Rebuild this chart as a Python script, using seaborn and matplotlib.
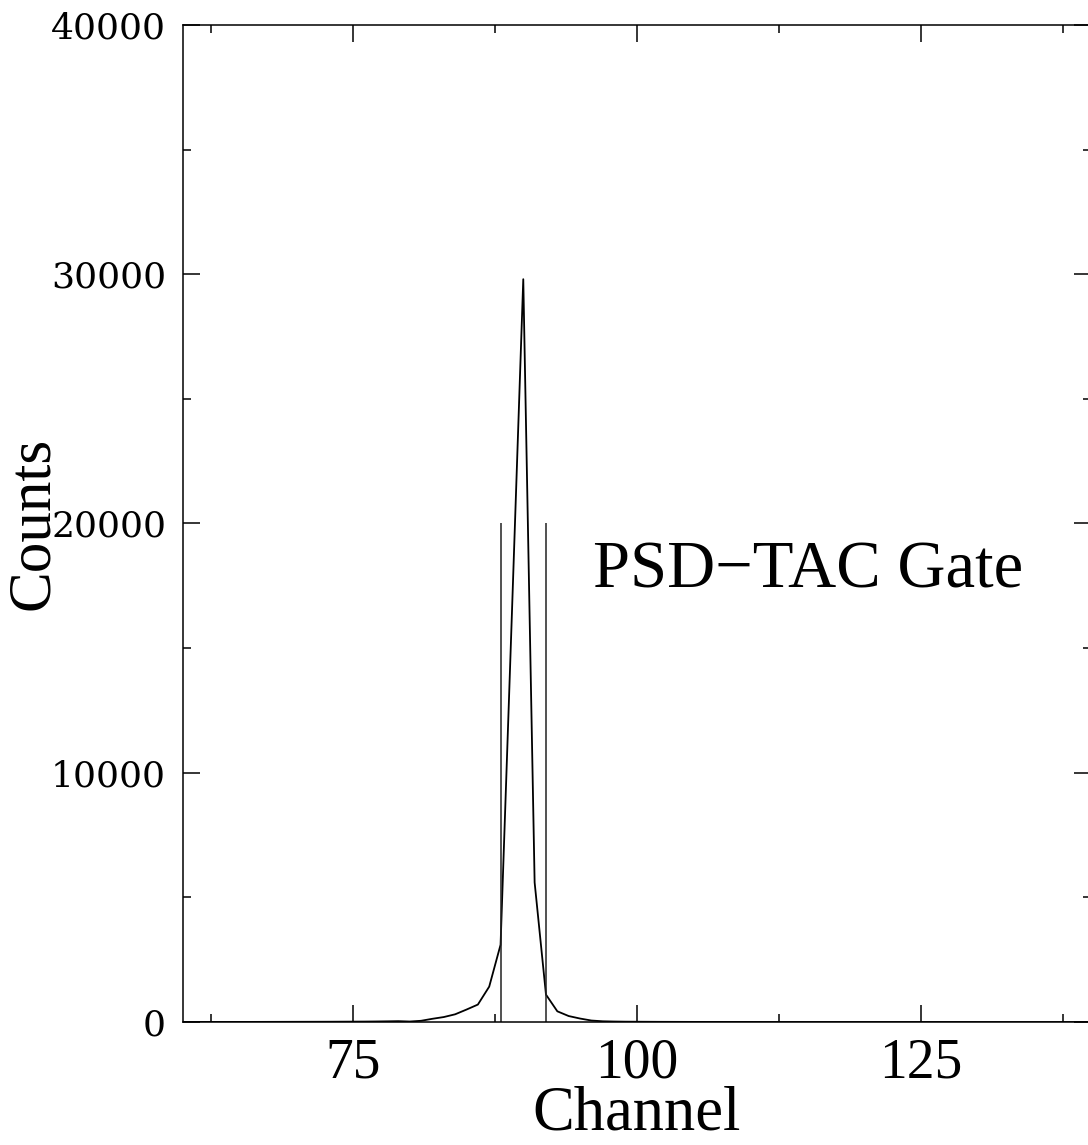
import matplotlib
matplotlib.use("Agg")
import matplotlib.pyplot as plt
import seaborn as sns
from matplotlib.ticker import MultipleLocator

# spectrum, one value per channel (60 .. 140)
channels = list(range(60, 141))
counts = [
    2, 3, 3, 4, 4, 5, 5, 6, 7, 8,                          # 60-69
    9, 10, 11, 12, 14, 16, 18, 22, 28, 35,                 # 70-79
    20, 50, 130, 200, 310, 500, 700, 1420, 3100, 16400,    # 80-89
    29800, 5600, 1100, 430, 240, 140, 60, 30, 20, 14,      # 90-99
    12, 10, 8, 7, 6, 5, 4, 4, 3, 3,                        # 100-109
    3, 2, 2, 2, 2, 1, 1, 1, 1, 1,                          # 110-119
    1, 1, 1, 1, 1, 1, 1, 1, 1, 1,                          # 120-129
    0, 0, 0, 0, 0, 0, 0, 0, 0, 0, 0,                       # 130-140
]

# gate limits
gate_channels = [88, 92]
gate_height = 20000
gate_label = "PSD\u2212TAC Gate"

sns.set_theme(style="ticks")
plt.rcParams['font.family'] = ['Liberation Serif', 'DejaVu Serif']
plt.rcParams['text.color'] = 'black'
plt.rcParams['axes.labelcolor'] = 'black'
plt.rcParams['xtick.color'] = 'black'
plt.rcParams['ytick.color'] = 'black'
plt.rcParams['axes.edgecolor'] = 'black'

fig = plt.figure(figsize=(10.88, 11.45), dpi=100)
ax = fig.add_axes([0.1679, 0.1074, 0.8348, 0.8708])

sns.lineplot(x=channels, y=counts, color='black', linewidth=1.3, ax=ax)
ax.vlines(gate_channels, 0, gate_height, color='#222222', linewidth=1.1)
ax.text(96.1, 18100, gate_label, fontsize=48, va='center', ha='left')

ax.set_xlim(60, 140)
ax.set_ylim(0, 40000)
ax.xaxis.set_major_locator(MultipleLocator(25))
ax.xaxis.set_minor_locator(MultipleLocator(12.5))
ax.yaxis.set_major_locator(MultipleLocator(10000))
ax.yaxis.set_minor_locator(MultipleLocator(5000))

ax.tick_params(which='both', direction='in', top=True, right=True, width=1.1)
ax.tick_params(which='major', length=12)
ax.tick_params(which='minor', length=6)
ax.tick_params(axis='x', labelsize=40, pad=11)
ax.tick_params(axis='y', labelsize=26, pad=12, labelfontfamily='DejaVu Serif')

for sp in ax.spines.values():
    sp.set_linewidth(1.1)

ax.set_xlabel('Channel', fontsize=45)
ax.set_ylabel('Counts', fontsize=44)
ax.xaxis.set_label_coords(0.5, -0.064)
ax.yaxis.set_label_coords(-0.134, 0.5)

fig.savefig('out.png', dpi=100)
